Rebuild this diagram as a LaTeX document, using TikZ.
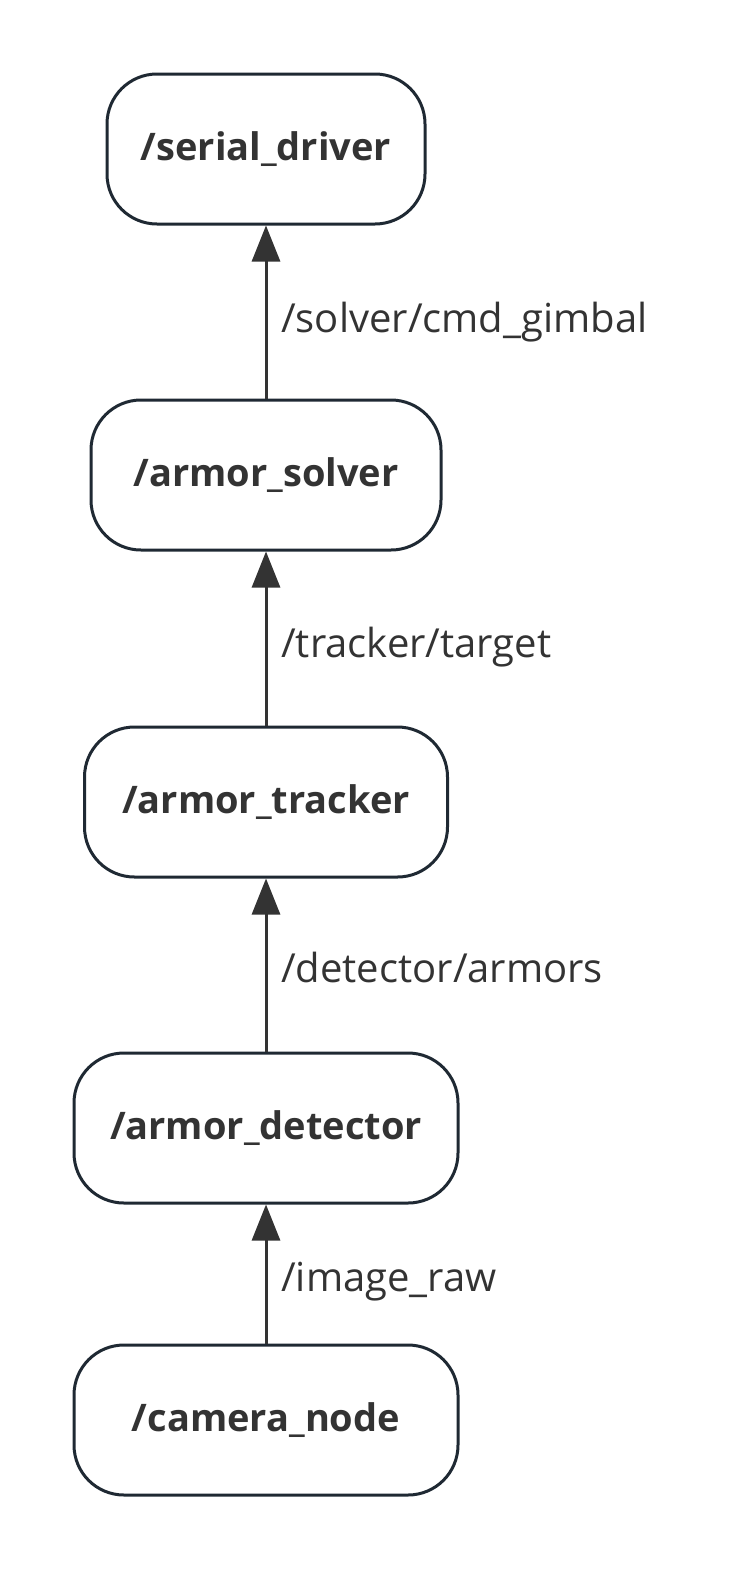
\documentclass[tikz,border=0pt]{standalone}
\usepackage{fontspec}
\setmainfont{Open Sans}
\usetikzlibrary{arrows.meta}
\definecolor{edgec}{HTML}{1F2933}
\definecolor{txtc}{HTML}{333333}
\newcommand{\nodefont}{\fontsize{38}{44}\selectfont\bfseries}
\newcommand{\labfont}{\fontsize{40}{46}\selectfont}
\tikzset{
  rosnode/.style={draw=edgec, line width=3pt, rounded corners=50pt, minimum height=150pt, fill=white, text=txtc, font={\nodefont}, inner sep=0pt},
  topic/.style={draw=txtc, line width=3pt, -{Triangle[length=36pt,width=28pt]}},
  tlabel/.style={anchor=west, text=txtc, font={\labfont}, inner sep=0pt}
}
\begin{document}
\begin{tikzpicture}[x=1pt,y=-1pt]
\useasboundingbox (0,0) rectangle (738,1572);
\node[rosnode, minimum width=318pt] (sd) at (266,149) {/serial\_driver};
\node[rosnode, minimum width=350pt] (as) at (266,475) {/armor\_solver};
\node[rosnode, minimum width=363pt] (at) at (266,802) {/armor\_tracker};
\node[rosnode, minimum width=384pt] (ad) at (266,1128) {/armor\_detector};
\node[rosnode, minimum width=384pt] (cn) at (266,1420) {/camera\_node};
\draw[topic] (as.north) -- (sd.south);
\draw[topic] (at.north) -- (as.south);
\draw[topic] (ad.north) -- (at.south);
\draw[topic] (cn.north) -- (ad.south);
\node[tlabel] (l1) at (281,322) {/solver/cmd\_gimbal};
\node[tlabel] (l2) at (281,647) {/tracker/target};
\node[tlabel] (l3) at (281,967) {/detector/armors};
\node[tlabel] (l4) at (281,1282) {/image\_raw};
\end{tikzpicture}
\end{document}
